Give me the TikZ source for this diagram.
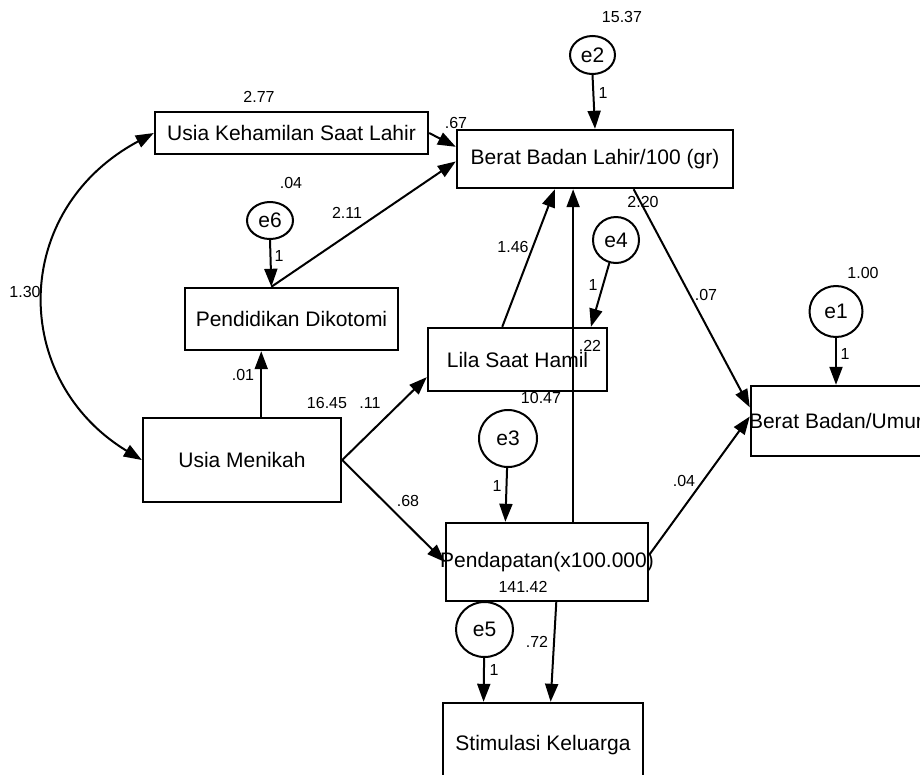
\documentclass[tikz,border=0pt]{standalone}
\usepackage{fontspec}
\setmainfont{Liberation Sans}
\usetikzlibrary{arrows.meta,shapes.geometric}

\begin{document}
\begin{tikzpicture}[x=1pt,y=-1pt,
    var/.style={draw, line width=2.4pt, inner sep=0pt, font=\fontsize{21}{25}\selectfont},
    err/.style={draw, ellipse, line width=2pt, inner sep=0pt, font=\fontsize{21}{25}\selectfont},
    arr/.style={line width=2pt, -{Triangle[length=18pt,width=13pt]}},
    cov/.style={line width=2pt, {Triangle[length=18pt,width=13pt]}-{Triangle[length=18pt,width=13pt]}},
    num/.style={inner sep=0pt, font=\fontsize{16}{19}\selectfont}]
    \useasboundingbox (0,0) rectangle (920,774);
    \clip (0,0) rectangle (920,774);
    % observed variables
    \node[var, minimum width=273pt, minimum height=42pt] (uksl) at (291.5,133) {Usia Kehamilan Saat Lahir};
    \node[var, minimum width=276pt, minimum height=58pt] (bbl) at (595,159) {Berat Badan Lahir/100 (gr)};
    \node[var, minimum width=213pt, minimum height=62pt] (pd) at (291.5,319) {Pendidikan Dikotomi};
    \node[var, minimum width=198pt, minimum height=84pt] (um) at (242,460) {Usia Menikah};
    \node[var, minimum width=179pt, minimum height=63pt] (lila) at (517.5,359.5) {Lila Saat Hamil};
    \node[var, minimum width=170pt, minimum height=70pt] (bbu) at (836,421) {\makebox[0pt]{Berat Badan/Umur}};
    \node[var, minimum width=202pt, minimum height=78pt] (pend) at (547,562) {\makebox[0pt]{Pendapatan(x100.000)}};
    \node[var, minimum width=200pt, minimum height=84pt] (stim) at (543,745) {Stimulasi Keluarga};
    % error terms
    \node[err, minimum width=45pt, minimum height=38pt] (e2) at (592.5,55) {e2};
    \node[err, minimum width=46pt, minimum height=37pt] (e6) at (270,220.5) {e6};
    \node[err, minimum width=46pt, minimum height=46pt] (e4) at (616,240) {e4};
    \node[err, minimum width=53pt, minimum height=51pt] (e1) at (836,311.5) {e1};
    \node[err, minimum width=58pt, minimum height=57pt] (e3) at (508,438.5) {e3};
    \node[err, minimum width=57pt, minimum height=55pt] (e5) at (484.5,629.5) {e5};
    % paths
    \draw[cov] (uksl.west) .. controls (10,210) and (10,380) .. (um.west);
    \draw[arr] (e2.south) -- (bbl.north);
    \draw[arr] (uksl.east) -- (bbl.175);
    \draw[arr] (pd.122) -- (bbl.181);
    \draw[arr] (e6.south) -- (pd.122);
    \draw[arr] (um.66) -- (um.66 |- pd.south);
    \draw[arr] (um.east) -- (lila.191);
    \draw[arr] (um.east) -- (pend.west);
    \draw[arr] (lila.115) -- (bbl.217);
    \draw[arr] (pend.57) -- (pend.57 |- bbl.south);
    \draw[arr] (e4) -- (lila.24);
    \draw[arr] (bbl.322) -- (bbu.171);
    \draw[arr] (pend.4) -- (bbu.177);
    \draw[arr] (e1) -- (bbu.north);
    \draw[arr] (e3) -- (pend.136);
    \draw[arr] (pend.283) -- (stim.80);
    \draw[arr] (e5) -- (stim.144);
    % estimates
    \node[num] (n277) at (259,97) {2.77};
    \node[num] (n67) at (456,123) {.67};
    \node[num] (n1537) at (622,17) {15.37};
    \node[num] (w2) at (603,93) {1};
    \node[num] (n04a) at (291,183) {.04};
    \node[num] (n211) at (347,213) {2.11};
    \node[num] (w6) at (279,256) {1};
    \node[num] (n130) at (25,292) {1.30};
    \node[num] (n01) at (243,375) {.01};
    \node[num] (n1645) at (327,403) {16.45};
    \node[num] (n11) at (370,403) {.11};
    \node[num] (n146) at (513,247) {1.46};
    \node[num] (w4) at (593,285) {1};
    \node[num] (n220) at (643,202) {2.20};
    \node[num] (n07) at (706,295) {.07};
    \node[num] (n100) at (863,273) {1.00};
    \node[num] (w1) at (845,354) {1};
    \node[num] (n22) at (590,346) {.22};
    \node[num] (n1047) at (541,398) {10.47};
    \node[num] (w3) at (497,486) {1};
    \node[num] (n68) at (408,501) {.68};
    \node[num] (n04b) at (684,481) {.04};
    \node[num] (n14142) at (523,587) {141.42};
    \node[num] (n72) at (537,642) {.72};
    \node[num] (w5) at (494,670) {1};
\end{tikzpicture}
\end{document}
